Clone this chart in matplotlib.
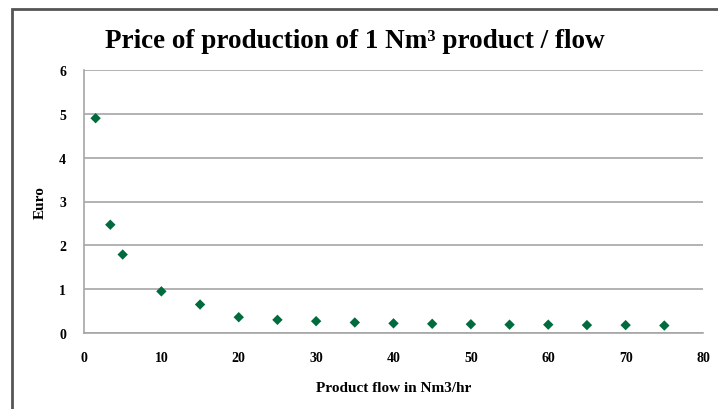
import matplotlib
matplotlib.use("Agg")
import matplotlib.pyplot as plt
from matplotlib.patches import Rectangle

# values
flow = [1.5, 3.4, 5, 10, 15, 20, 25, 30, 35, 40, 45, 50, 55, 60, 65, 70, 75]
price = [4.9, 2.47, 1.79, 0.95, 0.65, 0.36, 0.30, 0.27, 0.24, 0.22, 0.21, 0.20, 0.19, 0.19, 0.18, 0.18, 0.17]
x_ticks = [0, 10, 20, 30, 40, 50, 60, 70, 80]
y_ticks = [0, 1, 2, 3, 4, 5, 6]

plt.rcParams["font.family"] = ["Liberation Serif", "DejaVu Serif"]

fig = plt.figure(figsize=(7.18, 4.10), dpi=100)
# outer chart border (only left and top edges fall inside the picture)
fig.patches.append(Rectangle((12 / 718, -0.05), 1.1, 1.05 - 10 / 410, transform=fig.transFigure,
                             fill=False, edgecolor="#555555", linewidth=2.0))

ax = fig.add_axes([84 / 718, 1 - 334 / 410, (703 - 84) / 718, (334 - 71) / 410])
ax.scatter(flow, price, marker="D", s=28, color="#006B3C", edgecolors="none", zorder=3)

ax.set_xlim(0, 80)
ax.set_ylim(0, 6)
ax.set_xticks(x_ticks)
ax.set_yticks(y_ticks)
ax.grid(axis="y", color="#a6a6a6", linewidth=1.2)
ax.set_axisbelow(True)
for side in ["top", "right"]:
    ax.spines[side].set_visible(False)
for side in ["left", "bottom"]:
    ax.spines[side].set_color("#a6a6a6")
    ax.spines[side].set_linewidth(1.2)
ax.tick_params(length=0, labelsize=10, pad=13)
for lbl in ax.get_xticklabels() + ax.get_yticklabels():
    lbl.set_fontweight("bold")

ax.set_xlabel("Product flow in Nm3/hr", fontsize=11, fontweight="bold", labelpad=12)
ax.set_ylabel("Euro", fontsize=11, fontweight="bold", labelpad=9)
fig.text(355 / 718, 1 - 41 / 410, "Price of production of 1 Nm³ product / flow", ha="center", va="center",
         fontsize=19.5, fontweight="bold")

fig.savefig("out.png", dpi=100)
